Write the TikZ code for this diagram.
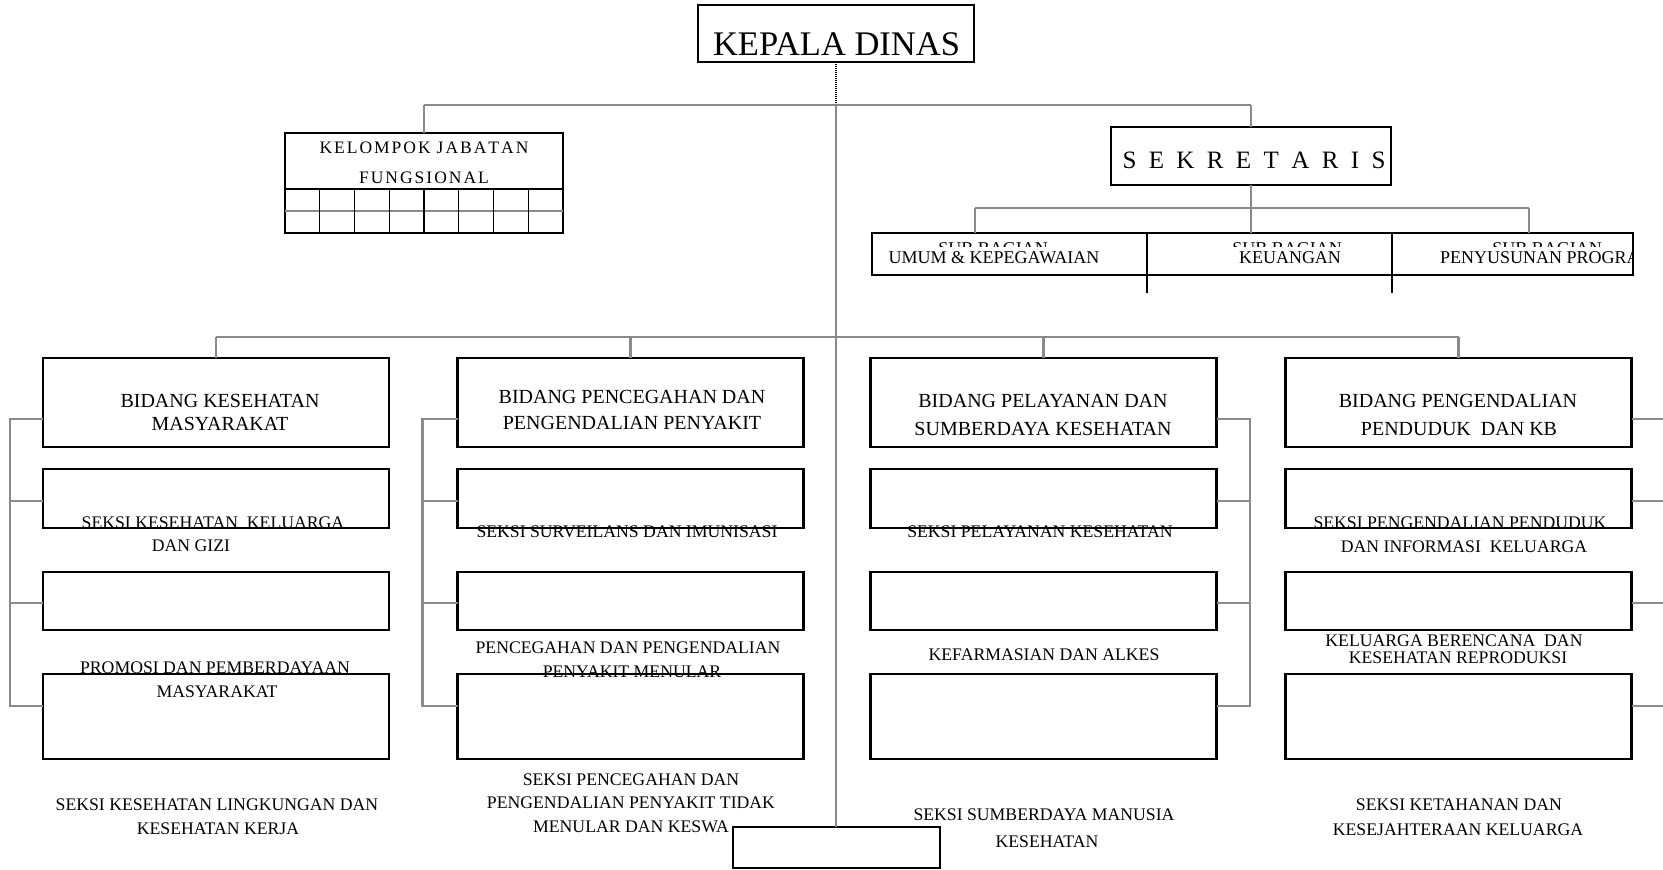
\documentclass[tikz,border=0pt]{standalone}
\usepackage{fontspec}
\setmainfont{Liberation Serif}
\definecolor{lg}{HTML}{8A8A8A}
\newdimen\lsgap
\def\ls#1{\lsa#1\relax}
\def\lsa#1#2{#1\ifx\relax#2\else\hspace{\lsgap}\expandafter\lsa\expandafter#2\fi}
\tikzset{
  box/.style={draw=black, line width=2.6pt, inner sep=0pt, outer sep=0pt},
  conn/.style={draw=lg, line width=2.2pt},
  dotline/.style={draw=black, line width=2.4pt, dash pattern=on 1.2pt off 0.8pt},
  grid/.style={draw=black, line width=1.4pt},
  tx/.style={anchor=base, inner sep=0pt, font=\fontsize{17.7}{20}\selectfont},
  tbid/.style={anchor=base, inner sep=0pt, font=\fontsize{20}{22}\selectfont},
  tsub/.style={anchor=base, inner sep=0pt, font=\fontsize{18}{20}\selectfont},
}
\begin{document}
\begin{tikzpicture}[x=1pt,y=-1pt]
\useasboundingbox (0,0) rectangle (1663,870);
\clip (0,0) rectangle (1663,870);
\fill[white] (0,0) rectangle (1663,870);

% ---------- top boxes ----------
\node[box, minimum width=276pt, minimum height=57pt] (kd) at (836,33.5) {};
\node[anchor=base, inner sep=0pt, font=\fontsize{34.5}{36}\selectfont] (kdt) at (836.5,55) {KEPALA DINAS};

\node[box, minimum width=278pt, minimum height=100pt] (kjf) at (424,183) {};
\lsgap=2pt
\node[anchor=base, inner sep=0pt, font=\fontsize{17.5}{19}\selectfont] (kjft1) at (424,153) {\ls{KELOMPOK}\hspace{6pt}\ls{JABATAN}};
\node[anchor=base, inner sep=0pt, font=\fontsize{17.5}{19}\selectfont] (kjft2) at (424,183) {\ls{FUNGSIONAL}};
\draw[grid] (285,189) -- (563,189);
\draw[draw=lg, line width=1.6pt] (285,211) -- (563,211);
\foreach \k in {1,...,7} {
  \draw[grid] ({285+34.75*\k},189) -- ({285+34.75*\k},233);
}

\node[box, minimum width=280pt, minimum height=58pt] (sek) at (1251,156) {};
\node[anchor=base, inner sep=0pt, font=\fontsize{25}{27}\selectfont] (sekt) at (1254,168) {S\hspace{12.4pt}E\hspace{12.4pt}K\hspace{12.4pt}R\hspace{12.4pt}E\hspace{12.4pt}T\hspace{12.4pt}A\hspace{12.4pt}R\hspace{12.4pt}I\hspace{12.4pt}S};

% ---------- sub bagian row ----------
\node[box, minimum width=275pt, minimum height=42pt] (sb1) at (1009.5,254) {};
\node[box, minimum width=245pt, minimum height=42pt] (sb2) at (1269.5,254) {};
\node[box, minimum width=241pt, minimum height=42pt] (sb3) at (1512.5,254) {};
\draw[black, line width=2.2pt] (sb1.south east) -- ++(0,18);
\draw[black, line width=2.2pt] (sb2.south east) -- ++(0,18);
\begin{scope}
  \clip (874,235) rectangle (1631,246.5);
  \node[tsub] (sbh1) at (993,254) {SUB BAGIAN};
  \node[tsub] (sbh2) at (1287,254) {SUB BAGIAN};
  \node[tsub] (sbh3) at (1547,254) {SUB BAGIAN};
\end{scope}
\node[tsub] (sbt1) at (994,263) {UMUM \& KEPEGAWAIAN};
\node[tsub] (sbt2) at (1290,263) {KEUANGAN};
\begin{scope}
  \clip (1394,235) rectangle (1631,273);
  \node[tsub, anchor=base west] (sbt3) at (1440,263) {PENYUSUNAN PROGRAM};
\end{scope}

% ---------- columns ----------
\foreach \c/\x in {1/216,2/630.5,3/1043.5,4/1458.5} {
  \node[box, minimum width=346pt, minimum height=89pt] (b\c) at (\x,402.5) {};
  \node[box, minimum width=346pt, minimum height=59pt] (sa\c) at (\x,498.5) {};
  \node[box, minimum width=346pt, minimum height=58pt] (sb\c x) at (\x,601) {};
  \node[box, minimum width=346pt, minimum height=85pt] (sc\c) at (\x,716.5) {};
}
\node[box, minimum width=207pt, minimum height=41pt] (bot) at (836.5,847.5) {};

% ---------- connectors ----------
\coordinate (j0) at (836,105);
\coordinate (jl) at (424,105);
\coordinate (jr) at (1251,105);
\draw[dotline] (kd.south) -- (j0);
\draw[conn] (jl) -- (jr);
\draw[conn] (jl) -- (kjf.north);
\draw[conn] (jr) -- (sek.north);
\draw[conn] (j0) -- (j0 |- bot.north);

\coordinate (js) at (1251,208);
\coordinate (jsl) at (975,208);
\coordinate (jsr) at (1529,208);
\draw[conn] (sek.south) -- (js);
\draw[conn] (jsl) -- (jsr);
\draw[conn] (jsl) -- (jsl |- sb1.north);
\draw[conn] (js) -- (js |- sb1.north);
\draw[conn] (jsr) -- (jsr |- sb1.north);

\coordinate (bl) at (216,337);
\coordinate (br) at (1458.5,337);
\draw[conn] (bl) -- (br);
\foreach \c in {1,2,3,4} { \draw[conn] (b\c.north) -- ++(0,-21); }

% left brackets
\draw[conn] ([yshift=-16.5pt]b1.west) -- ++(-33,0) |- ([yshift=10.5pt]sc1.west);
\draw[conn] ([yshift=-2.5pt]sa1.west) -- ++(-33,0);
\draw[conn] ([yshift=-2pt]sb1x.west) -- ++(-33,0);
\draw[conn] ([yshift=-16.5pt]b2.west) -- ++(-35,0) |- ([yshift=10.5pt]sc2.west);
\draw[conn] ([yshift=-2.5pt]sa2.west) -- ++(-35,0);
\draw[conn] ([yshift=-2pt]sb2x.west) -- ++(-35,0);
% right brackets
\draw[conn] ([yshift=-16.5pt]b3.east) -- ++(33.5,0) |- ([yshift=10.5pt]sc3.east);
\draw[conn] ([yshift=-2.5pt]sa3.east) -- ++(33.5,0);
\draw[conn] ([yshift=-2pt]sb3x.east) -- ++(33.5,0);
\draw[conn] ([yshift=-16.5pt]b4.east) -- ++(40,0) |- ([yshift=10.5pt]sc4.east);
\draw[conn] ([yshift=-2.5pt]sa4.east) -- ++(40,0);
\draw[conn] ([yshift=-2pt]sb4x.east) -- ++(40,0);

% ---------- texts: bidang ----------
\node[tbid] (t11) at (220,407) {BIDANG KESEHATAN};
\node[tbid] (t12) at (220,430) {MASYARAKAT};
\node[tbid] (t21) at (632,403) {BIDANG PENCEGAHAN DAN};
\node[tbid] (t22) at (632,429) {PENGENDALIAN PENYAKIT};
\node[tbid] (t31) at (1043,407) {BIDANG PELAYANAN DAN};
\node[tbid] (t32) at (1043,435) {SUMBERDAYA KESEHATAN};
\node[tbid] (t41) at (1458,407) {BIDANG PENGENDALIAN};
\node[tbid] (t42) at (1459,435) {PENDUDUK\ \ DAN KB};

% ---------- texts: seksi ----------
\node[tx] (u11) at (213,528) {SEKSI KESEHATAN\ \ KELUARGA};
\node[tx] (u12) at (191,551) {DAN GIZI};
\node[tx] (u13) at (215,673) {PROMOSI DAN PEMBERDAYAAN};
\node[tx] (u14) at (217,697) {MASYARAKAT};
\node[tx] (u15) at (217,810) {SEKSI KESEHATAN LINGKUNGAN DAN};
\node[tx] (u16) at (218,834) {KESEHATAN KERJA};

\node[tx] (u21) at (627,537) {SEKSI SURVEILANS DAN IMUNISASI};
\node[tx] (u22) at (628,653) {PENCEGAHAN DAN PENGENDALIAN};
\node[tx] (u23) at (632,677) {PENYAKIT MENULAR};
\node[tx] (u24) at (631,785) {SEKSI PENCEGAHAN DAN};
\node[tx] (u25) at (631,808) {PENGENDALIAN PENYAKIT TIDAK};
\node[tx] (u26) at (631,832) {MENULAR DAN KESWA};

\node[tx] (u31) at (1040,537) {SEKSI PELAYANAN KESEHATAN};
\node[tx] (u32) at (1044,660) {KEFARMASIAN DAN ALKES};
\node[tx] (u33) at (1044,820) {SEKSI SUMBERDAYA MANUSIA};
\node[tx] (u34) at (1047,847) {KESEHATAN};

\node[tx] (u41) at (1460,528) {SEKSI PENGENDALIAN PENDUDUK};
\node[tx] (u42) at (1464,552) {DAN INFORMASI\ \ KELUARGA};
\node[tx] (u43) at (1454,646) {KELUARGA BERENCANA\ \ DAN};
\node[tx] (u44) at (1458,663) {KESEHATAN REPRODUKSI};
\node[tx] (u45) at (1459,810) {SEKSI KETAHANAN DAN};
\node[tx] (u46) at (1458,835) {KESEJAHTERAAN KELUARGA};
\end{tikzpicture}
\end{document}
